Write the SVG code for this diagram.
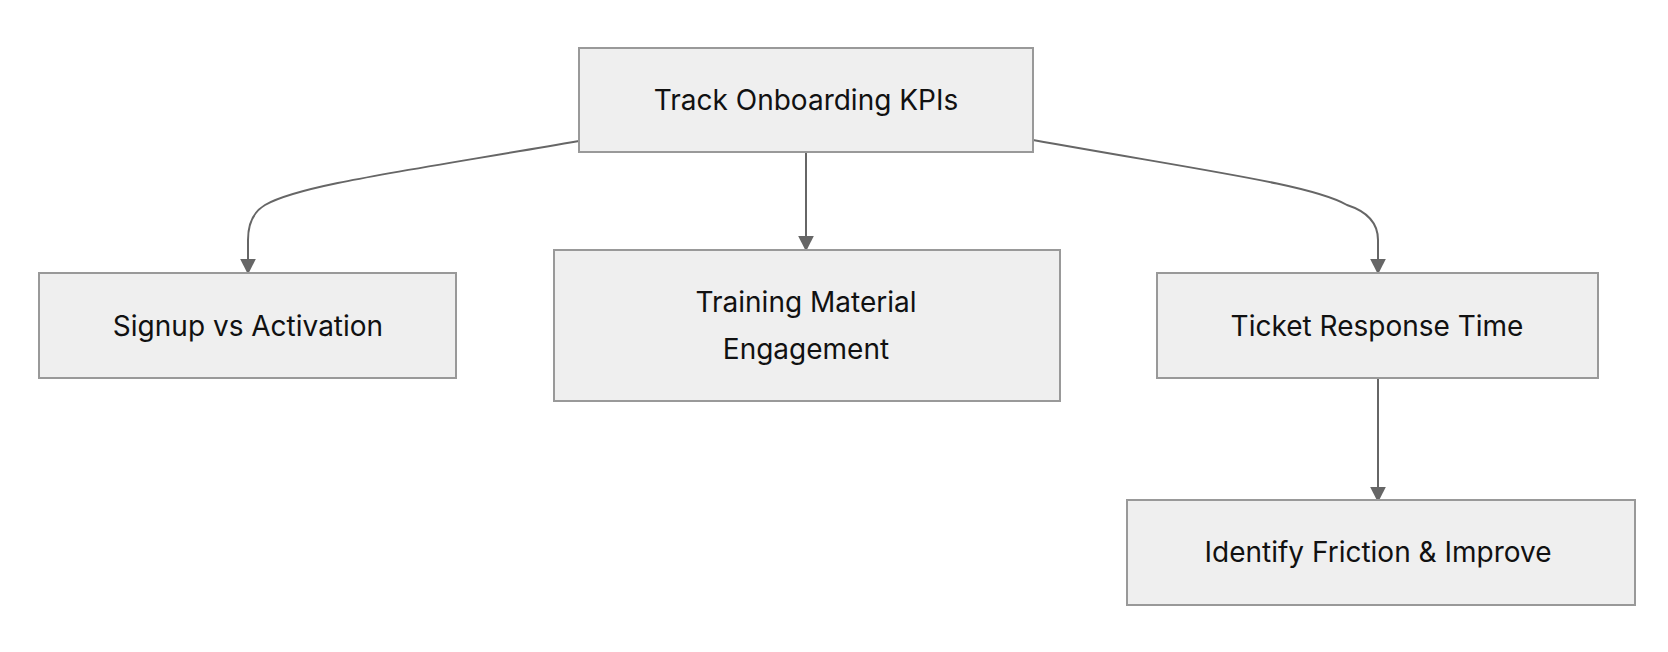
<svg xmlns="http://www.w3.org/2000/svg" width="1668" height="652" viewBox="0 0 1668 652">
<style>
.n rect{fill:#efefef;stroke:#999;stroke-width:2}
.n text{font-family:Inter,"Liberation Sans",sans-serif;font-size:28px;fill:#111;text-anchor:middle;dominant-baseline:central}
.e path{fill:none;stroke:#666;stroke-width:2}
</style>
<defs><marker id="a" viewBox="0 0 10 10" refX="10" refY="5" markerWidth="7" markerHeight="7" markerUnits="userSpaceOnUse" orient="auto"><path d="M0,0L10,5L0,10z" fill="#666"/></marker>
<marker id="b" viewBox="0 0 10 10" refX="9" refY="5" markerWidth="16" markerHeight="16" markerUnits="userSpaceOnUse" orient="auto"><path d="M0,0L10,5L0,10z" fill="#666"/></marker></defs>
<rect width="1668" height="652" fill="#fff"/>
<g class="e">
<path d="M579,141 C400,172 300,185 265,205 Q248,215 248,240 L248,273" marker-end="url(#b)"/>
<path d="M806,152 L806,250" marker-end="url(#b)"/>
<path d="M1033,140 C1212,172 1312,185 1347,205 Q1378,215 1378,240 L1378,273" marker-end="url(#b)"/>
<path d="M1378,378 L1378,501" marker-end="url(#b)"/>
</g>
<g id="n1" class="n"><rect x="579" y="48" width="454" height="104"/><text x="806" y="100">Track Onboarding KPIs</text></g>
<g id="n2" class="n"><rect x="39" y="273" width="417" height="105"/><text x="248" y="326">Signup vs Activation</text></g>
<g id="n3" class="n"><rect x="554" y="250" width="506" height="151"/><text x="806" y="302">Training Material</text><text x="806" y="349">Engagement</text></g>
<g id="n4" class="n"><rect x="1157" y="273" width="441" height="105"/><text x="1377" y="326">Ticket Response Time</text></g>
<g id="n5" class="n"><rect x="1127" y="500" width="508" height="105"/><text x="1378" y="552">Identify Friction &amp; Improve</text></g>
</svg>
